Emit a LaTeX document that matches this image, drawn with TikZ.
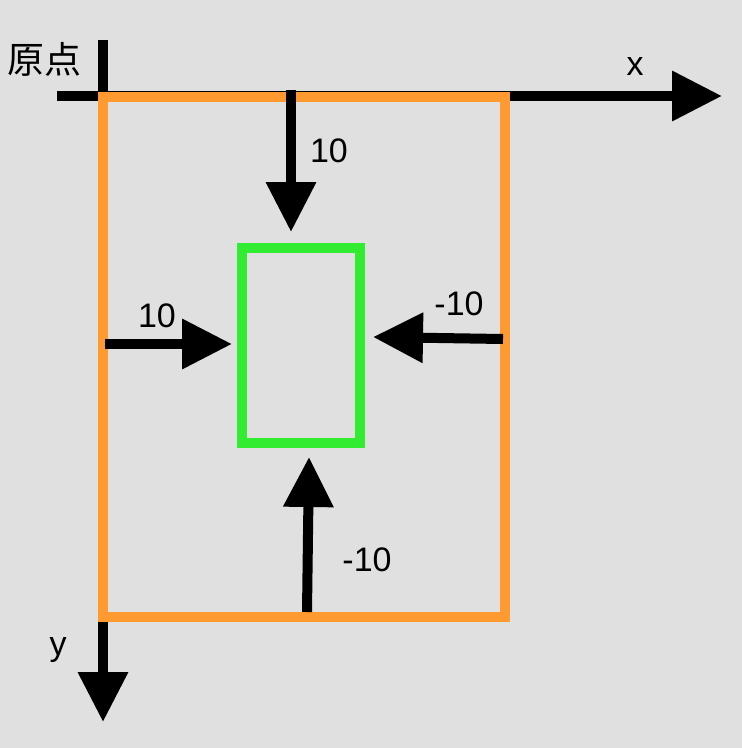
\documentclass[tikz,border=0pt]{standalone}
\usepackage{fontspec}
\setmainfont{Liberation Sans}
\newfontfamily\cjk{Noto Sans CJK SC}
\usetikzlibrary{arrows.meta}

\definecolor{bggray}{RGB}{224,224,224}
\definecolor{frameorange}{RGB}{255,154,48}
\definecolor{boxgreen}{RGB}{50,236,50}

\tikzset{
  axis/.style={line width=10pt, -{Triangle[length=50pt, width=48pt]}},
  push/.style={line width=10pt, -{Triangle[length=50pt, width=48pt]}},
  lbl/.style={inner sep=0pt, anchor=base, font=\fontsize{34}{40}\selectfont},
}

\begin{document}
\begin{tikzpicture}[x=1pt, y=-1pt]
		\fill[bggray] (0, 0) rectangle (742, 748);
		\useasboundingbox (0, 0) rectangle (742, 748);

		\coordinate (O) at (103, 96);
		\coordinate (XS) at (57, 96);
		\coordinate (XE) at (722, 96);
		\coordinate (YS) at (103, 40);
		\coordinate (YE) at (103, 722);

		\draw[axis] (XS) -- (XE);
		\draw[axis] (YS) -- (YE);
		\node[inner sep=0pt, font=\cjk\fontsize{37}{44}\selectfont] (origin) at (45, 59) {原点};
		\node[lbl] (xlabel) at (635, 75) {x};
		\node[lbl] (ylabel) at (58, 655) {y};

		\draw[frameorange, line width=10pt] (O) ++(0, 1) rectangle (505, 617);
		\draw[boxgreen, line width=10pt] (242, 248) rectangle (360, 443);

		\coordinate (T0) at (291, 90);
		\coordinate (T1) at (291, 232);
		\coordinate (L0) at (105, 344);
		\coordinate (L1) at (232, 344);
		\coordinate (R0) at (503, 339);
		\coordinate (R1) at (373, 337);
		\coordinate (B0) at (307, 612);
		\coordinate (B1) at (309, 457);

		\draw[push] (T0) -- (T1);
		\draw[push] (L0) -- (L1);
		\draw[push] (R0) -- (R1);
		\draw[push] (B0) -- (B1);

		\node[lbl] (ltop) at (329, 162) {10};
		\node[lbl] (lleft) at (157, 327) {10};
		\node[lbl] (lright) at (459, 315) {-10};
		\node[lbl] (lbottom) at (367, 571) {-10};
	\end{tikzpicture}
\end{document}
